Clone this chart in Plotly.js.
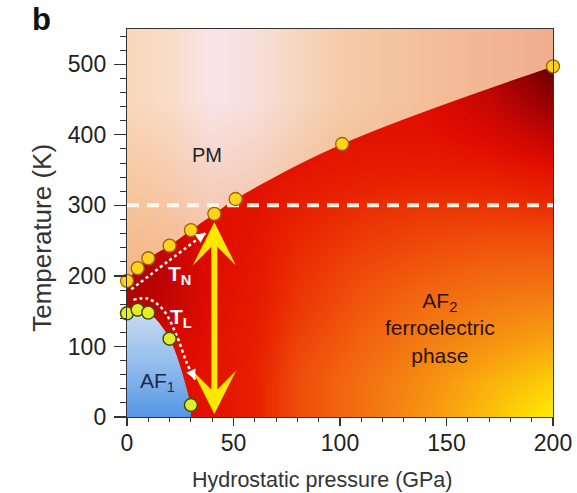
<!DOCTYPE html>
<html>
<head>
<meta charset="utf-8">
<script src="https://cdn.plot.ly/plotly-3.0.1.min.js"></script>
<style>html,body{margin:0;padding:0;background:#fff;}#chart{width:577px;height:493px;}</style>
</head>
<body>
<div id="chart"></div>
<script>
// ---- data ----
const pressureTN = [0, 5, 10, 20, 30, 41, 51, 101, 200];        // GPa
const tempTN     = [193, 211, 225, 243, 265, 288, 309, 387, 497]; // K (Néel transition)
const pressureTL = [0, 5, 10, 20, 30];
const tempTL     = [147, 152, 148, 111, 17];                      // K (lock-in transition)

// guide arrows (dotted white)
const guideTN_P = [2, 19, 37];
const guideTN_T = [181, 220, 261];
const guideTL_P = [3, 9.5, 17, 23.5, 28, 32];
const guideTL_T = [166, 168, 152, 114, 77, 53];

// big yellow double arrow (pressure, temperature span)
const bigArrowP = 41;
const bigArrowT = [2, 276];

const roomT = 300;
const xTicks = [0, 50, 100, 150, 200];
const yTicks = [0, 100, 200, 300, 400, 500];
const xMax = 200, yMax = 550;

// colour-intensity grid of the AF2 region (0 = dark red, 1 = yellow)
const shadeP = [0, 20, 40, 60, 80, 110, 140, 170, 200];
const shadeT = [0, 50, 100, 150, 200, 250, 300, 350, 400, 450, 500, 550];
const shadeZ = [
  [.38, .40, .42, .47, .58, .67, .77, .88, 1.0],
  [.36, .40, .42, .47, .58, .67, .75, .84, .92],
  [.34, .38, .42, .46, .56, .64, .71, .77, .82],
  [.26, .32, .41, .45, .53, .61, .67, .71, .74],
  [.24, .30, .40, .44, .51, .58, .62, .65, .66],
  [.30, .34, .40, .43, .49, .54, .57, .59, .59],
  [.35, .38, .41, .42, .46, .50, .52, .52, .50],
  [.40, .40, .41, .42, .43, .45, .46, .45, .42],
  [.40, .40, .41, .42, .42, .42, .42, .38, .30],
  [.40, .40, .41, .42, .42, .42, .40, .32, .16],
  [.40, .40, .41, .42, .42, .42, .38, .24, .04],
  [.40, .40, .41, .42, .42, .40, .34, .18, .00]
];

// ---- styles ----
const FONT = '"Liberation Sans", Arial, Helvetica, sans-serif';
const af2Scale = [[0,'#4a0000'],[0.15,'#8e0000'],[0.28,'#b80404'],[0.40,'#e00c00'],[0.48,'#e82400'],
  [0.56,'#ee4408'],[0.64,'#f26410'],[0.72,'#f48212'],[0.80,'#f8a010'],[0.90,'#fcc808'],[1,'#ffee00']];
const pmScale = [[0,'#fad8b8'],[0.1,'#f9dcc8'],[0.2,'#f8e4e8'],[0.3,'#f7e0dc'],[0.4,'#f6d6c0'],
  [0.5,'#f5cca8'],[0.75,'#f3bc98'],[1,'#f1ae8e']];
const pmOverlay = [[0,'rgba(240,150,85,0.55)'],[1,'rgba(240,150,85,0)']];
const af1Scale = [[0,'#5596e4'],[0.5,'#94bdee'],[1,'#c8dcf2']];

const traces = [
  { type:'heatmap', x: shadeP, y: shadeT, z: shadeZ, zmin:0, zmax:1, colorscale: af2Scale,
    zsmooth:'best', showscale:false, hoverinfo:'skip' },
  // PM region (above T_N boundary)
  { type:'scatter', mode:'lines', x:[0, xMax], y:[yMax, yMax], line:{width:0}, hoverinfo:'skip', showlegend:false },
  { type:'scatter', mode:'lines', x: pressureTN, y: tempTN, line:{width:0, shape:'spline'},
    fill:'tonexty', fillgradient:{type:'horizontal', colorscale: pmScale, start:0, stop:xMax},
    hoverinfo:'skip', showlegend:false },
  { type:'scatter', mode:'lines', x:[0, xMax], y:[yMax, yMax], line:{width:0}, hoverinfo:'skip', showlegend:false },
  { type:'scatter', mode:'lines', x: pressureTN, y: tempTN, line:{width:0, shape:'spline'},
    fill:'tonexty', fillgradient:{type:'vertical', colorscale: pmOverlay, start:190, stop:450},
    hoverinfo:'skip', showlegend:false },
  // AF1 region
  { type:'scatter', mode:'lines', x: pressureTL, y: tempTL, line:{width:0, shape:'spline'},
    fill:'tozeroy', fillgradient:{type:'vertical', colorscale: af1Scale, start:0, stop:152},
    hoverinfo:'skip', showlegend:false },
  // room temperature dashed line
  { type:'scatter', mode:'lines', x:[0, xMax], y:[roomT, roomT],
    line:{color:'rgba(255,250,240,0.95)', width:4, dash:'12px,8px'}, hoverinfo:'skip', showlegend:false },
  // dotted guide arrows
  { type:'scatter', mode:'lines', x: guideTN_P, y: guideTN_T,
    line:{color:'#ffffff', width:2.5, dash:'dot', shape:'spline'}, hoverinfo:'skip', showlegend:false },
  { type:'scatter', mode:'lines', x: guideTL_P, y: guideTL_T,
    line:{color:'#ffffff', width:2.5, dash:'dot', shape:'spline'}, hoverinfo:'skip', showlegend:false },
  // data points
  { type:'scatter', mode:'markers', x: pressureTL, y: tempTL, cliponaxis:false,
    marker:{size:13, color:'#e4ec26', line:{color:'#3c4a0a', width:1.4}}, showlegend:false },
  { type:'scatter', mode:'markers', x: pressureTN, y: tempTN, cliponaxis:false,
    marker:{size:13, color:'#ffd21c', line:{color:'#a06400', width:1.3}}, showlegend:false }
];

const nTN = guideTN_P.length, nTL = guideTL_P.length;
const annotations = [
  { xref:'paper', yref:'paper', x:-0.228, y:1.075, xanchor:'left', yanchor:'top', showarrow:false,
    text:'<b>b</b>', font:{family:FONT, size:31, color:'#111'} },
  { xref:'paper', yref:'paper', x:0.458, y:-0.162, xanchor:'center', yanchor:'middle', showarrow:false,
    text:'Hydrostatic pressure (GPa)', font:{family:FONT, size:21.5, color:'#333'} },
  { xref:'paper', yref:'paper', x:-0.1995, y:0.462, xanchor:'center', yanchor:'middle', showarrow:false,
    textangle:-90, text:'Temperature (K)', font:{family:FONT, size:26, color:'#333'} },
  { x:37.5, y:372, text:'PM', showarrow:false, font:{family:FONT, size:20, color:'#222'} },
  { x:24.5, y:201, text:'<b>T<sub>N</sub></b>', showarrow:false, font:{family:FONT, size:21, color:'#ffffff'} },
  { x:25.5, y:141, text:'<b>T<sub>L</sub></b>', showarrow:false, font:{family:FONT, size:21, color:'#ffffff'} },
  { x:14.5, y:50, text:'AF<sub>1</sub>', showarrow:false, font:{family:FONT, size:21, color:'#1c2a4a'} },
  { x:147, y:126, text:'AF<sub>2</sub><br>ferroelectric<br>phase', showarrow:false,
    font:{family:FONT, size:21, color:'#2a1208'} },
  // big yellow double arrow
  { x: bigArrowP, y: bigArrowT[1], ax: bigArrowP, ay: bigArrowT[0], axref:'x', ayref:'y', text:'',
    showarrow:true, arrowside:'end+start', arrowhead:3, startarrowhead:3, arrowsize:1.2, startarrowsize:1.2,
    arrowwidth:6, arrowcolor:'#ffe800', standoff:0, startstandoff:0 },
  // heads of dotted guides
  { x: guideTN_P[nTN-1], y: guideTN_T[nTN-1], ax:-7, ay:5, text:'', showarrow:true, arrowhead:2,
    arrowsize:1, arrowwidth:2, arrowcolor:'#ffffff', standoff:0 },
  { x: guideTL_P[nTL-1], y: guideTL_T[nTL-1], ax:-3.5, ay:-7.5, text:'', showarrow:true, arrowhead:2,
    arrowsize:1, arrowwidth:2, arrowcolor:'#ffffff', standoff:0 }
];

const layout = {
  width:577, height:493,
  margin:{l:127, r:24, t:29, b:76, pad:0},
  paper_bgcolor:'#ffffff', plot_bgcolor:'#ffffff',
  showlegend:false,
  font:{family:FONT, color:'#222'},
  xaxis:{
    range:[0, xMax], tickvals:xTicks, ticks:'outside', ticklen:8, tickwidth:1.2, tickcolor:'#333',
    minor:{dtick:10, ticks:'outside', ticklen:4, tickwidth:1, tickcolor:'#333'},
    showline:true, linecolor:'#333', linewidth:1.2, mirror:true, showgrid:false, zeroline:false,
    tickfont:{family:FONT, size:23, color:'#222'}, ticklabelstandoff:-3
  },
  yaxis:{
    range:[0, yMax], tickvals:yTicks, ticks:'outside', ticklen:12, tickwidth:1.2, tickcolor:'#333',
    minor:{dtick:20, ticks:'outside', ticklen:6, tickwidth:1, tickcolor:'#333'},
    showline:true, linecolor:'#333', linewidth:1.2, mirror:true, showgrid:false, zeroline:false,
    tickfont:{family:FONT, size:23, color:'#222'}, ticklabelstandoff:3
  },
  annotations: annotations
};

Plotly.newPlot('chart', traces, layout, {staticPlot:true, displayModeBar:false});
</script>
</body>
</html>
